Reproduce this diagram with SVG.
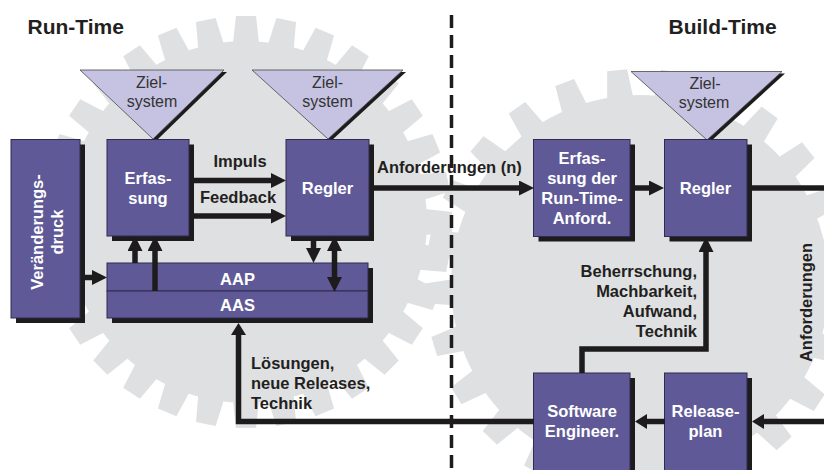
<svg xmlns="http://www.w3.org/2000/svg" width="824" height="470" viewBox="0 0 824 470">
<defs>
<style>
.box{fill:#5f5a97;stroke:#2f2b4f;stroke-width:1}
.sh{fill:#1e1b1c}
.tri{fill:#c6c2e2;stroke:#4a4a4a;stroke-width:0.8}
.wt{font-family:"Liberation Sans",Arial,sans-serif;font-weight:bold;font-size:16.5px;fill:#ffffff;text-anchor:middle}
.bt{font-family:"Liberation Sans",Arial,sans-serif;font-weight:bold;font-size:16.5px;fill:#231f20}
.zt{font-family:"Liberation Sans",Arial,sans-serif;font-size:16px;fill:#333333;text-anchor:middle}
.ttl{font-family:"Liberation Sans",Arial,sans-serif;font-weight:bold;font-size:21px;fill:#231f20}
.ln{fill:none;stroke:#1e1b1c;stroke-width:5.5}
.gear{fill:#dfe0e2}
</style>
<marker id="ah" viewBox="0 0 15 15" markerWidth="15" markerHeight="15" refX="0" refY="7.5" orient="auto-start-reverse" markerUnits="userSpaceOnUse"><path d="M0,0 L15,7.5 L0,15 Z" fill="#1e1b1c"/></marker>
<marker id="ahs" viewBox="0 0 12 15" markerWidth="12" markerHeight="15" refX="0" refY="7.5" orient="auto-start-reverse" markerUnits="userSpaceOnUse"><path d="M0,0 L12,7.5 L0,15 Z" fill="#1e1b1c"/></marker>
</defs>

<g id="gears" class="gear">
<g transform="translate(246,222)">
<circle r="181"/>
<path id="t1" d="M-13,-179 L-10,-206 L10,-206 L13,-179 Z"/>
<use href="#t1" transform="rotate(11.25)"/><use href="#t1" transform="rotate(22.5)"/><use href="#t1" transform="rotate(33.75)"/><use href="#t1" transform="rotate(45)"/>
<use href="#t1" transform="rotate(56.25)"/><use href="#t1" transform="rotate(67.5)"/><use href="#t1" transform="rotate(78.75)"/><use href="#t1" transform="rotate(90)"/>
<use href="#t1" transform="rotate(101.25)"/><use href="#t1" transform="rotate(112.5)"/><use href="#t1" transform="rotate(123.75)"/><use href="#t1" transform="rotate(135)"/>
<use href="#t1" transform="rotate(146.25)"/><use href="#t1" transform="rotate(157.5)"/><use href="#t1" transform="rotate(168.75)"/><use href="#t1" transform="rotate(180)"/>
<use href="#t1" transform="rotate(191.25)"/><use href="#t1" transform="rotate(202.5)"/><use href="#t1" transform="rotate(213.75)"/><use href="#t1" transform="rotate(225)"/>
<use href="#t1" transform="rotate(236.25)"/><use href="#t1" transform="rotate(247.5)"/><use href="#t1" transform="rotate(258.75)"/><use href="#t1" transform="rotate(270)"/>
<use href="#t1" transform="rotate(281.25)"/><use href="#t1" transform="rotate(292.5)"/><use href="#t1" transform="rotate(303.75)"/><use href="#t1" transform="rotate(315)"/>
<use href="#t1" transform="rotate(326.25)"/><use href="#t1" transform="rotate(337.5)"/><use href="#t1" transform="rotate(348.75)"/>
</g>
<g transform="translate(640,284)">
<circle r="189"/>
<path id="t2" d="M-13,-187 L-10,-215 L10,-215 L13,-187 Z" transform="rotate(-6.1)"/>
<use href="#t2" transform="rotate(14.4)"/><use href="#t2" transform="rotate(28.8)"/><use href="#t2" transform="rotate(43.2)"/><use href="#t2" transform="rotate(57.6)"/>
<use href="#t2" transform="rotate(72)"/><use href="#t2" transform="rotate(86.4)"/><use href="#t2" transform="rotate(100.8)"/><use href="#t2" transform="rotate(115.2)"/>
<use href="#t2" transform="rotate(129.6)"/><use href="#t2" transform="rotate(144)"/><use href="#t2" transform="rotate(158.4)"/><use href="#t2" transform="rotate(172.8)"/>
<use href="#t2" transform="rotate(187.2)"/><use href="#t2" transform="rotate(201.6)"/><use href="#t2" transform="rotate(216)"/><use href="#t2" transform="rotate(230.4)"/>
<use href="#t2" transform="rotate(244.8)"/><use href="#t2" transform="rotate(259.2)"/><use href="#t2" transform="rotate(273.6)"/><use href="#t2" transform="rotate(288)"/>
<use href="#t2" transform="rotate(302.4)"/><use href="#t2" transform="rotate(316.8)"/><use href="#t2" transform="rotate(331.2)"/><use href="#t2" transform="rotate(345.6)"/>
</g>
</g>

<text class="ttl" x="27.5" y="34">Run-Time</text>
<text class="ttl" x="668.5" y="34">Build-Time</text>

<g id="ziel1">
<polygon class="sh" points="83,72 227,72 156,141"/>
<polygon class="tri" points="80,70 224,70 153,139"/>
<text class="zt" x="151.5" y="88">Ziel-</text>
<text class="zt" x="152" y="107">system</text>
</g>
<g id="ziel2">
<polygon class="sh" points="255,72 406,72 331,141"/>
<polygon class="tri" points="252,70 403,70 328,139"/>
<text class="zt" x="327.5" y="88">Ziel-</text>
<text class="zt" x="327.5" y="107">system</text>
</g>
<g id="ziel3">
<polygon class="sh" points="634,73.5 785,73.5 710,142"/>
<polygon class="tri" points="631,71.5 782,71.5 707,140"/>
<text class="zt" x="705" y="89">Ziel-</text>
<text class="zt" x="704" y="108">system</text>
</g>

<g id="veraenderungsdruck">
<rect class="sh" x="16" y="144.5" width="69" height="178.5"/>
<rect class="box" x="11" y="139.5" width="69" height="178.5"/>
<text class="wt" transform="translate(42.5,232) rotate(-90)"><tspan x="0" y="0">Veränderungs-</tspan><tspan x="0" y="20">druck</tspan></text>
</g>
<g id="erfassung">
<rect class="sh" x="112" y="144.5" width="82" height="96.5"/>
<rect class="box" x="107" y="139.5" width="82" height="96.5"/>
<text class="wt" x="148" y="183.5">Erfas-</text>
<text class="wt" x="148" y="203.5">sung</text>
</g>
<g id="regler-rt">
<rect class="sh" x="291" y="144.5" width="83" height="96.5"/>
<rect class="box" x="286" y="139.5" width="83" height="96.5"/>
<text class="wt" x="327.5" y="194">Regler</text>
</g>
<g id="aap-aas">
<rect class="sh" x="112" y="268" width="261" height="55"/>
<rect class="box" x="107" y="263" width="261" height="28"/>
<rect class="box" x="107" y="291" width="261" height="27"/>
<text class="wt" x="237.5" y="284.5">AAP</text>
<text class="wt" x="237.5" y="311">AAS</text>
</g>
<g id="erfassung-bt">
<rect class="sh" x="538.5" y="144.5" width="96.5" height="97"/>
<rect class="box" x="533.5" y="139.5" width="96.5" height="97"/>
<text class="wt" x="582" y="163.5">Erfas-</text>
<text class="wt" x="582" y="183.5">sung der</text>
<text class="wt" x="582" y="204">Run-Time-</text>
<text class="wt" x="582" y="223.5">Anford.</text>
</g>
<g id="regler-bt">
<rect class="sh" x="669.5" y="144.5" width="82.5" height="97"/>
<rect class="box" x="664.5" y="139.5" width="82.5" height="97"/>
<text class="wt" x="705.5" y="194">Regler</text>
</g>
<g id="software-engineering">
<rect class="sh" x="538.5" y="378" width="96.5" height="110"/>
<rect class="box" x="533.5" y="373" width="96.5" height="110"/>
<text class="wt" x="582" y="417">Software</text>
<text class="wt" x="582" y="437">Engineer.</text>
</g>
<g id="releaseplan">
<rect class="sh" x="669.5" y="378" width="82.5" height="110"/>
<rect class="box" x="664.5" y="373" width="82.5" height="110"/>
<text class="wt" x="705.5" y="417">Release-</text>
<text class="wt" x="705.5" y="437">plan</text>
</g>

<g id="connectors">
<path class="ln" d="M194,180.5 H271" marker-end="url(#ah)"/>
<path class="ln" d="M194,216 H271" marker-end="url(#ah)"/>
<path class="ln" d="M374,188 H519" marker-end="url(#ah)"/>
<path class="ln" d="M635,188 H649" marker-end="url(#ah)"/>
<path class="ln" d="M752,188 H824"/>
<path class="ln" d="M824,421.5 H764" marker-end="url(#ahs)"/>
<path class="ln" d="M665,421.5 H647" marker-end="url(#ahs)"/>
<path class="ln" d="M534,421.5 H238.5 V335" marker-end="url(#ahs)"/>
<path class="ln" d="M582,373 V349 H706 V252" marker-end="url(#ah)"/>
<path class="ln" d="M85,277.5 H92" marker-end="url(#ah)"/>
<path class="ln" d="M135,263 V251" marker-end="url(#ah)"/>
<path class="ln" d="M155,291 V251" marker-end="url(#ah)"/>
<path class="ln" d="M313.5,241 V248" marker-end="url(#ah)"/>
<path class="ln" d="M334.5,251 V277" marker-start="url(#ah)" marker-end="url(#ah)"/>
<text class="bt" x="240" y="167" text-anchor="middle">Impuls</text>
<text class="bt" x="238" y="203" text-anchor="middle">Feedback</text>
<text class="bt" x="377" y="173">Anforderungen (n)</text>
<text class="bt" text-anchor="end"><tspan x="697" y="277">Beherrschung,</tspan><tspan x="697" y="297">Machbarkeit,</tspan><tspan x="697" y="317">Aufwand,</tspan><tspan x="697" y="337">Technik</tspan></text>
<text class="bt"><tspan x="251" y="368.5">Lösungen,</tspan><tspan x="251" y="388.5">neue Releases,</tspan><tspan x="251" y="408.5">Technik</tspan></text>
<text class="bt" text-anchor="middle" transform="translate(812,302.5) rotate(-90)">Anforderungen</text>
</g>

<line x1="451.5" y1="15" x2="451.5" y2="470" stroke="#1e1b1c" stroke-width="3.5" stroke-dasharray="13 7"/>
</svg>
